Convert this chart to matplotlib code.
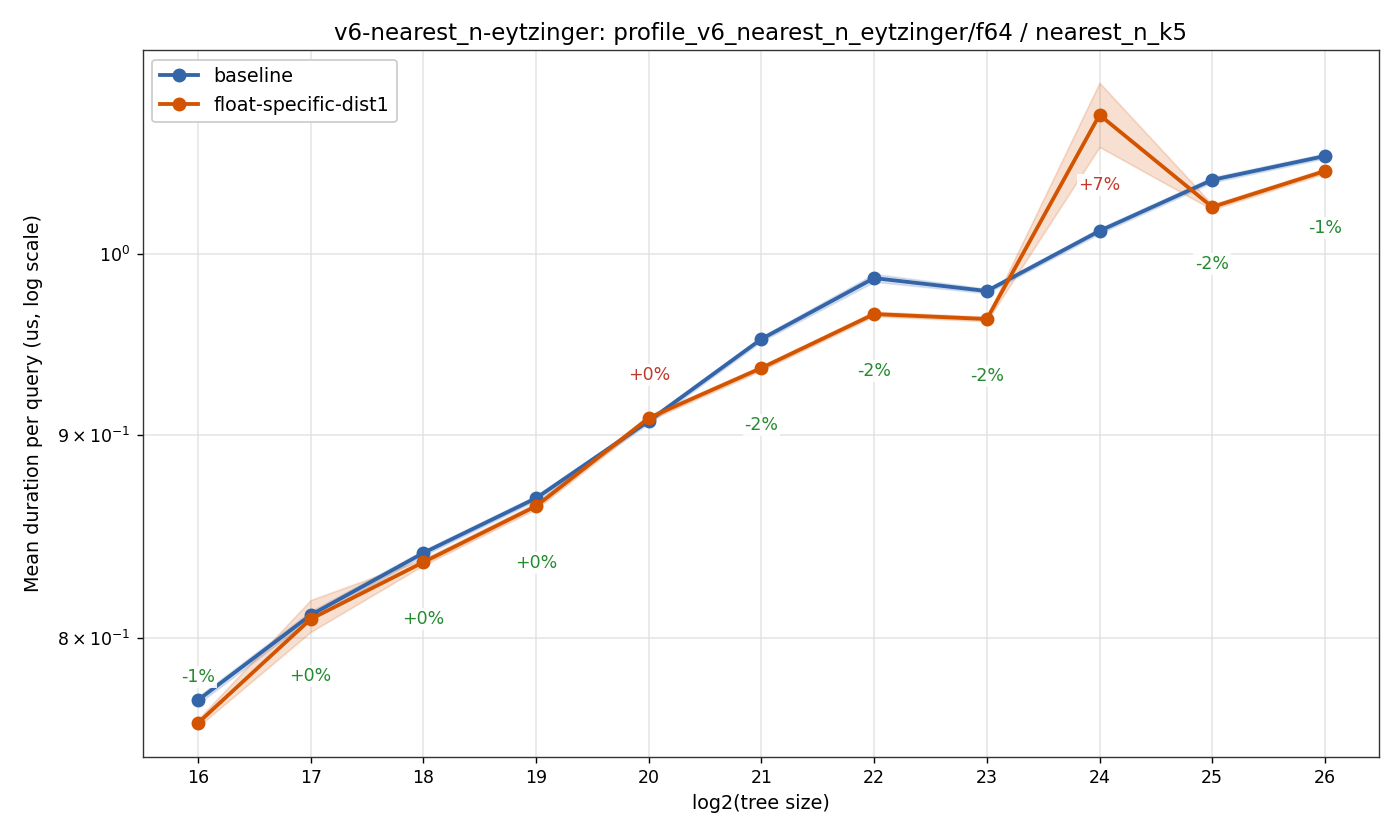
import numpy as np
import matplotlib
matplotlib.use("Agg")
import matplotlib.pyplot as plt

x_vals = [16, 17, 18, 19, 20, 21, 22, 23, 24, 25, 26]
baseline = [0.7716, 0.8107, 0.8405, 0.8677, 0.9075, 0.9518, 0.9861, 0.9787, 1.0135, 1.0440, 1.0586]
baseline_lo = [0.7700, 0.8090, 0.8392, 0.8665, 0.9062, 0.9505, 0.9840, 0.9775, 1.0120, 1.0425, 1.0572]
baseline_hi = [0.7732, 0.8124, 0.8418, 0.8690, 0.9088, 0.9531, 0.9885, 0.9800, 1.0150, 1.0456, 1.0600]
floatd = [0.7614, 0.8088, 0.8360, 0.8637, 0.9091, 0.9359, 0.9657, 0.9629, 1.0842, 1.0277, 1.0494]
floatd_lo = [0.7598, 0.8028, 0.8345, 0.8622, 0.9078, 0.9346, 0.9645, 0.9617, 1.0642, 1.0262, 1.0480]
floatd_hi = [0.7630, 0.8178, 0.8375, 0.8652, 0.9104, 0.9372, 0.9670, 0.9642, 1.1046, 1.0292, 1.0508]
pct_labels = ["-1%", "+0%", "+0%", "+0%", "+0%", "-2%", "-2%", "-2%", "+7%", "-2%", "-1%"]
pct_regress = [False, False, False, False, True, False, False, False, True, False, False]

c_base = "#3465a8"
c_float = "#d35400"
c_green = "#238b2e"
c_red = "#c0392b"

fig, ax = plt.subplots(figsize=(11.2, 6.72), dpi=125)
fig.subplots_adjust(left=0.102, right=0.985, top=0.9405, bottom=0.0988)

ax.fill_between(x_vals, baseline_lo, baseline_hi, color=c_base, alpha=0.16, lw=1)
ax.fill_between(x_vals, floatd_lo, floatd_hi, color=c_float, alpha=0.18, lw=1)
ax.plot(x_vals, baseline, "-o", color=c_base, lw=2.2, ms=7, label="baseline", zorder=3)
ax.plot(x_vals, floatd, "-o", color=c_float, lw=2.2, ms=7, label="float-specific-dist1", zorder=3)

ax.set_yscale("log")
ax.set_ylim(0.7465, 1.1259)
ax.set_xlim(15.51, 26.48)
ax.set_xticks(x_vals)
ax.set_xticklabels([str(v) for v in x_vals])
ax.set_yticks([0.8, 0.9, 1.0])
ax.set_yticklabels([r"$8\times10^{-1}$", r"$9\times10^{-1}$", r"$10^{0}$"])
ax.yaxis.set_minor_formatter(matplotlib.ticker.NullFormatter())
ax.tick_params(axis="y", which="minor", length=0)
ax.tick_params(labelsize=10)
ax.grid(True, color="#dddddd", alpha=0.7, lw=1)
ax.set_axisbelow(True)
for s in ax.spines.values():
    s.set_color("#333333")

ax.set_xlabel("log2(tree size)", fontsize=11)
ax.set_ylabel("Mean duration per query (us, log scale)", fontsize=11, labelpad=8)
ax.set_title("v6-nearest_n-eytzinger: profile_v6_nearest_n_eytzinger/f64 / nearest_n_k5", fontsize=13.2)

fig.canvas.draw()
ax_bottom_px = ax.get_window_extent().y0
for xv, b, f, lab, reg in zip(x_vals, baseline, floatd, pct_labels, pct_regress):
    if reg:
        ref, off = b, 46
    else:
        ref, off = min(b, f), -57
        py = ax.transData.transform((xv, ref))[1] + off
        if py < ax_bottom_px + 10:
            ref, off = max(b, f), 23
    ax.annotate(lab, (xv, ref), xytext=(0, off), textcoords="offset pixels",
                ha="center", va="center", fontsize=10,
                color=c_red if reg else c_green,
                bbox=dict(boxstyle="square,pad=0.1", fc="white", ec="none", alpha=0.9),
                zorder=4)

leg = ax.legend(loc="upper left", fontsize=11, framealpha=1, edgecolor="#cccccc")
fig.savefig("out.png", dpi=125)
